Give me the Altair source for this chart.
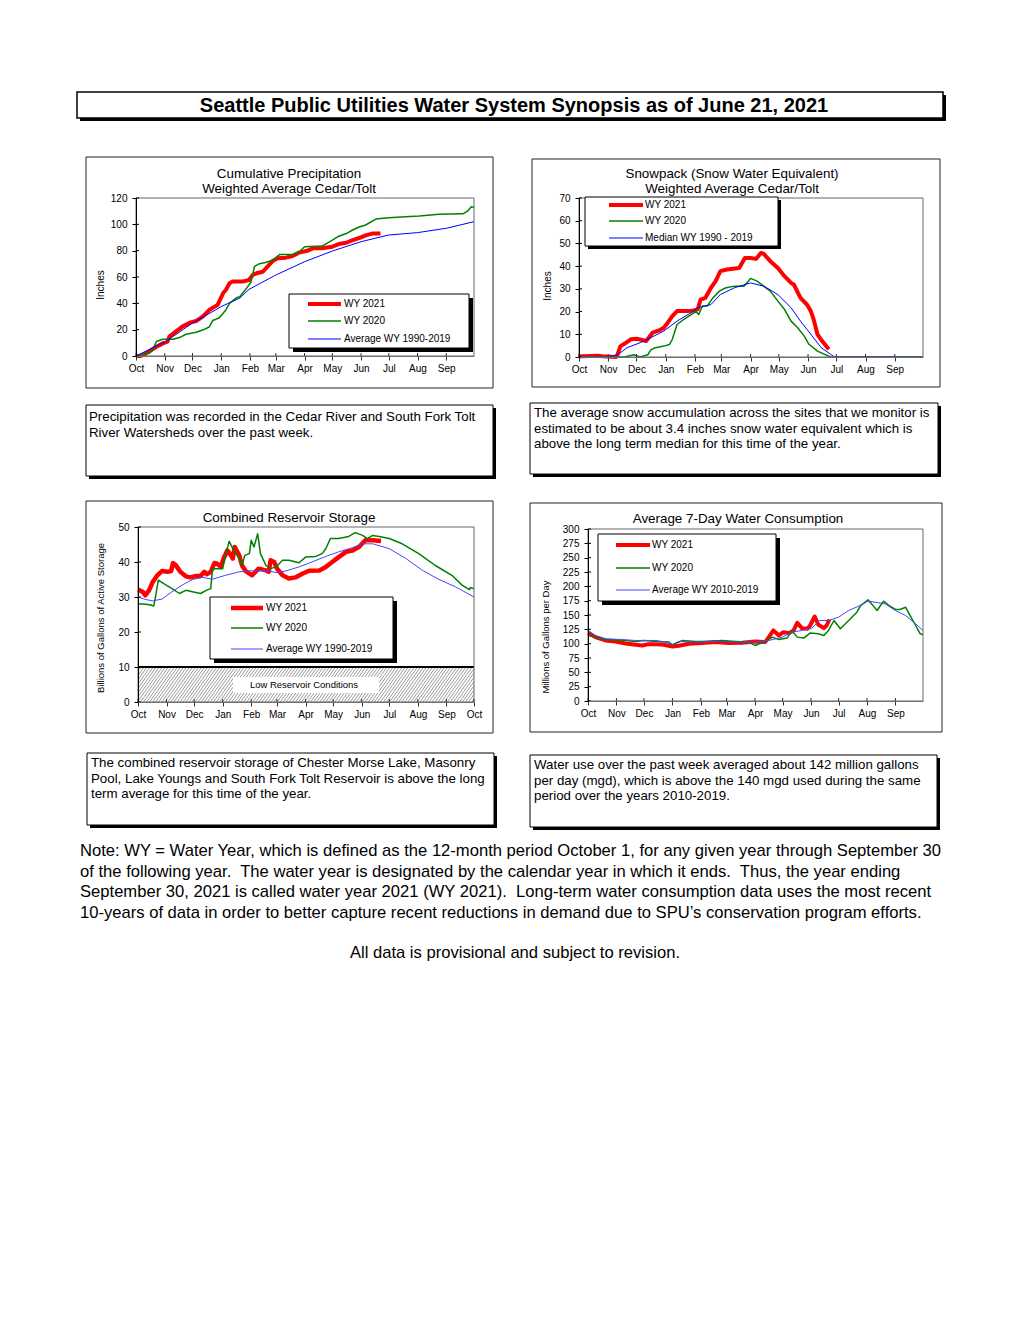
import altair as alt
import numpy as np
import pandas as pd

FONT = "Liberation Sans"

TITLE = "Seattle Public Utilities Water System Synopsis as of June 21, 2021"

MONTHS = ["Oct", "Nov", "Dec", "Jan", "Feb", "Mar", "Apr", "May", "Jun", "Jul", "Aug", "Sep"]
MONTH_DAYS = [0, 31, 61, 92, 123, 151, 182, 212, 243, 273, 304, 335]

# ---------------- Cumulative precipitation (inches), (day of water year, value)
PRECIP_2021 = [(0, 0), (5, 0), (11, 2), (22, 7), (29, 9.6), (34, 10.9), (36, 14.7), (43, 18.5), (50, 22.3),
               (58, 25.3), (65, 26.6), (72, 29.9), (79, 34.9), (85, 37.5), (88, 38.7), (94, 47.6), (97, 50.1),
               (101, 55.2), (104, 56.5), (115, 56.5), (122, 57.7), (126, 61.5), (130, 62.8), (137, 64),
               (142, 67.8), (148, 72.4), (153, 74.2), (162, 74.7), (169, 75.9), (176, 78.5), (184, 79.7),
               (191, 81.8), (201, 81.8), (212, 83), (219, 85), (227, 86), (234, 88), (241, 89.6), (248, 91.6),
               (255, 93), (264, 93)]
PRECIP_2020 = [(0, 0), (7, 1.5), (14, 2), (18, 4.5), (22, 11), (29, 12.7), (40, 12.7), (47, 14), (54, 16.5),
               (65, 18), (72, 19.7), (79, 22), (83, 27), (90, 29), (97, 35), (101, 40), (108, 44), (112, 45),
               (119, 51), (124, 56), (128, 68), (133, 70), (140, 71), (148, 73), (155, 77), (169, 77), (176, 79),
               (182, 83), (201, 83.5), (212, 88), (219, 91), (227, 93), (234, 95.7), (241, 98), (248, 99.5),
               (259, 104), (273, 105), (291, 105.8), (306, 106.3), (327, 107.6), (353, 108), (358, 110),
               (362, 113.4), (365, 113)]
PRECIP_AVG = [(0, 0), (32, 11), (61, 25), (92, 37.5), (112, 44), (122, 50.6), (151, 61.5), (182, 71.6),
              (212, 79.7), (243, 86.8), (273, 91.9), (304, 93.7), (335, 97), (365, 102)]

# ---------------- Snowpack (inches SWE)
SNOW_2021 = [(0, 0), (2, 0.3), (5, 0.3), (20, 0.5), (25, 0.3), (39, 0), (41, 1.2), (44, 4.8), (50, 6.3),
             (55, 7.8), (62, 8), (67, 7.5), (71, 7), (74, 8.5), (78, 10.7), (85, 11.7), (90, 12.9), (94, 15),
             (99, 18), (104, 20.2), (115, 20.2), (122, 20.5), (126, 21), (129, 25.3), (134, 26), (140, 30.5),
             (145, 33.4), (150, 37.8), (157, 38.5), (170, 39.2), (176, 43.6), (182, 43.6), (188, 43.2),
             (193, 45.8), (196, 45.4), (203, 42.2), (211, 39.2), (218, 35.6), (225, 32.6), (228, 31.9),
             (235, 26), (242, 23), (246, 20.2), (249, 16.5), (253, 10), (258, 7), (265, 3.4)]
SNOW_2020 = [(0, 0), (48, 0), (56, 0.8), (58, 1), (62, 0.5), (65, 0), (73, 1), (76, 3), (80, 4), (90, 4.8),
             (96, 5.5), (99, 7.8), (104, 14.3), (111, 16.5), (119, 18.7), (124, 20), (127, 18.7), (131, 22.4),
             (136, 22.4), (142, 26), (149, 29), (156, 30.5), (165, 31.2), (175, 31.2), (179, 33), (182, 34.6),
             (189, 33.4), (196, 31.2), (203, 29), (211, 24.6), (218, 21), (225, 15.8), (232, 12.9), (239, 9.2),
             (244, 5.6), (253, 2.6), (267, 0), (365, 0)]
SNOW_MEDIAN = [(0, 0), (30, 0), (41, 0.9), (51, 4.1), (65, 6.3), (76, 8.5), (90, 11.4), (104, 15.8),
               (119, 19.5), (126, 21.7), (140, 23.1), (150, 27.5), (165, 30.5), (182, 32.6), (196, 31.2),
               (211, 27.5), (225, 21.7), (235, 15.8), (246, 10), (257, 4.1), (267, 1.2), (271, 0), (365, 0)]

# ---------------- Combined reservoir storage (billion gallons)
RES_2021 = [(0, 32.1), (5, 31.5), (8, 30.5), (12, 31.9), (16, 34.3), (21, 36.2), (26, 37.4), (32, 37.2),
            (36, 37.4), (38, 39.7), (41, 39.1), (46, 37.2), (52, 35.9), (57, 35.6), (63, 36), (68, 36),
            (72, 37.2), (75, 36.5), (79, 37.2), (83, 39.7), (86, 39.5), (90, 38.6), (93, 41), (97, 43.3),
            (101, 41.9), (103, 41), (105, 44.3), (110, 41.9), (113, 39), (117, 37.4), (124, 36.2), (131, 38.1),
            (139, 37.6), (142, 37.2), (144, 40.5), (148, 40), (151, 38.1), (157, 36.2), (164, 35.3),
            (171, 35.6), (179, 36.7), (186, 37.5), (197, 37.6), (204, 38.6), (211, 40), (218, 41.4),
            (226, 42.9), (233, 43.3), (240, 44.3), (247, 46.2), (255, 46.2), (264, 46)]
RES_2020 = [(0, 28.1), (8, 27.9), (14, 27.7), (17, 27.4), (19, 30), (22, 34.8), (28, 33.8), (37, 32.4),
            (45, 31), (52, 31.9), (59, 31.5), (68, 31), (74, 31.9), (79, 32.4), (81, 38.1), (86, 38.1),
            (92, 38.1), (95, 41.9), (99, 45.9), (104, 43.3), (110, 41), (113, 39), (116, 41.9), (121, 42.4),
            (123, 46.2), (126, 44.3), (130, 48.1), (133, 42.4), (139, 39), (144, 38.1), (150, 38.6),
            (157, 40.5), (164, 40.5), (175, 39.8), (182, 41.4), (193, 41.6), (200, 42.4), (204, 43.8),
            (209, 46.7), (218, 46.7), (229, 47.3), (236, 48.4), (244, 47.6), (249, 46.7), (255, 47.6),
            (262, 47.3), (273, 46.7), (287, 45.2), (305, 42.4), (323, 39), (341, 36.2), (352, 33.4),
            (360, 32.1), (361, 32.7), (365, 32.4)]
RES_AVG = [(0, 30), (8, 29.3), (16, 28.9), (26, 29.4), (37, 31.5), (48, 33.4), (59, 35), (70, 35.6),
           (81, 35.1), (95, 36.2), (110, 37.2), (124, 37.5), (139, 37.6), (150, 37), (160, 37.4), (175, 38.6),
           (189, 40), (204, 41.6), (218, 42.9), (233, 44.1), (244, 45.2), (255, 45.2), (273, 43.8), (291, 41),
           (309, 37.6), (327, 35), (345, 32.9), (365, 30)]
LOW_RESERVOIR = 10

# ---------------- Average 7-day consumption (mgd)
USE_2021 = [(0, 119), (8, 111.4), (19, 105.6), (30, 103.9), (41, 100.4), (52, 98), (59, 96.9), (66, 99.2),
            (81, 98.6), (92, 95.2), (99, 96.3), (110, 99.8), (124, 101), (139, 102.7), (153, 101), (168, 101.5),
            (182, 103.9), (193, 102.7), (197, 111.4), (202, 123), (208, 114.3), (213, 120), (219, 118.4),
            (224, 123), (228, 136.4), (233, 127.1), (239, 125.9), (242, 131.7), (247, 147.4), (251, 132.9),
            (257, 127.1), (260, 131.7), (263, 142.2)]
USE_2020 = [(0, 114.3), (8, 111.4), (19, 107.4), (30, 106.2), (41, 105.6), (52, 103.9), (61, 105.6),
            (74, 103.9), (88, 102.7), (92, 98), (103, 105.6), (117, 103.9), (132, 103.9), (146, 105.6),
            (161, 103.9), (175, 102.7), (182, 96.9), (193, 103.9), (201, 111.4), (208, 107.4), (217, 109.7),
            (222, 123), (228, 111.4), (235, 109.7), (242, 118.4), (251, 117.2), (257, 114.3), (262, 123),
            (268, 140.4), (275, 125.9), (284, 140.4), (293, 154.9), (297, 166.5), (302, 172.3), (305, 176.4),
            (309, 169.4), (315, 157.8), (322, 174.1), (328, 166.5), (335, 159.6), (340, 159.6), (346, 163.6),
            (351, 149.1), (357, 131.7), (362, 117.2), (365, 115.5)]
USE_AVG = [(0, 123), (8, 114.3), (19, 108.5), (34, 107.4), (52, 105.6), (74, 105.6), (85, 102.7), (92, 98),
           (99, 103.9), (117, 102.7), (139, 103.9), (161, 102.7), (183, 102.7), (197, 105.6), (212, 111.4),
           (222, 120.1), (233, 123), (244, 127.1), (252, 140.4), (262, 140.4), (273, 146.2), (284, 157.8),
           (295, 165.4), (305, 174.1), (313, 172.3), (324, 169.4), (335, 157.8), (346, 149.1), (357, 134.6),
           (365, 123)]

SP2 = "\u00a0 "  # double space after a full stop, as in the original
TEXT_PRECIP = ["Precipitation was recorded in the Cedar River and South Fork Tolt",
               "River Watersheds over the past week."]
TEXT_SNOW = ["The average snow accumulation across the sites that we monitor is",
             "estimated to be about 3.4 inches snow water equivalent which is",
             "above the long term median for this time of the year."]
TEXT_RES = ["The combined reservoir storage of Chester Morse Lake, Masonry",
            "Pool, Lake Youngs and South Fork Tolt Reservoir is above the long",
            "term average for this time of the year."]
TEXT_USE = ["Water use over the past week averaged about 142 million gallons",
            "per day (mgd), which is above the 140 mgd used during the same",
            "period over the years 2010-2019."]
NOTE = ["Note: WY = Water Year, which is defined as the 12-month period October 1, for any given year through September 30",
        "of the following year." + SP2 + "The water year is designated by the calendar year in which it ends."
        + SP2 + "Thus, the year ending",
        "September 30, 2021 is called water year 2021 (WY 2021)." + SP2
        + "Long-term water consumption data uses the most recent",
        "10-years of data in order to better capture recent reductions in demand due to SPU\u2019s conservation program efforts."]
NOTE2 = "All data is provisional and subject to revision."

RED = "#ff0000"
GREEN = "#008000"
BLUE = "#0000ff"
BLUE2 = "#4646ff"

ONE = pd.DataFrame({"k": [0]})


# ---------------- helpers
def vrect(x1, y1, x2, y2, **kw):
    return alt.Chart(ONE).mark_rect(**kw).encode(
        x=alt.value(x1), x2=alt.value(x2), y=alt.value(y1), y2=alt.value(y2))


def vtext(x, y, txt, **kw):
    opts = dict(font=FONT, color="black")
    opts.update(kw)
    return alt.Chart(ONE).mark_text(**opts).encode(x=alt.value(x), y=alt.value(y), text=alt.value(txt))


def vrule(x1, x2, y, **kw):
    return alt.Chart(ONE).mark_rule(**kw).encode(x=alt.value(x1), x2=alt.value(x2), y=alt.value(y))


def band(top, bottom):
    # invisible rect that fixes the vertical extent of a row for the page layout
    return vrect(0, top, 1, bottom, opacity=0)


def spacer(w, h=10, top=None, bottom=None):
    if top is None:
        top, bottom = 0, 1
    return band(top, bottom).properties(width=w, height=h)


def month_expr(days, labels):
    return ("[" + ",".join("'%s'" % l for l in labels) + "][indexof(["
            + ",".join(str(d) for d in days) + "], datum.value)]")


def make_xy(ydom, yticks, xticks, xlabels):
    xs = alt.Scale(domain=[0, 365], nice=False, zero=False)
    ys = alt.Scale(domain=ydom, nice=False, zero=False)
    common = dict(title=None, grid=False, tickSize=4, labelFont=FONT, labelFontSize=10, labelColor="black",
                  domainWidth=1, labelFlush=False, labelOverlap=False, zindex=1)
    xa = alt.Axis(values=xticks, labelExpr=month_expr(xticks, xlabels), labelPadding=3,
                  domainColor="#707070", tickColor="#333333", **common)
    ya = alt.Axis(values=yticks, labelPadding=5, domainColor="black", tickColor="black", **common)

    def X(f):
        return alt.X(f, scale=xs, axis=xa)

    def Y(f):
        return alt.Y(f, scale=ys, axis=ya)
    return X, Y, xticks, yticks


def series_layer(pairs, X, Y, color, width):
    df = pd.DataFrame(pairs, columns=["day", "value"])
    return alt.Chart(df).mark_line(color=color, strokeWidth=width, strokeJoin="round").encode(
        x=X("day:Q"), y=Y("value:Q"))


def legend_layers(box, lx, tx, ys, entries, shadow=4):
    x1, y1, x2, y2 = box
    out = [vrect(x1 + shadow, y1 + shadow, x2 + shadow, y2 + shadow, fill="black"),
           vrect(x1, y1, x2, y2, fill="white", stroke="black", strokeWidth=1)]
    for (lab, col, w), yy in zip(entries, ys):
        out.append(vrule(lx[0], lx[1], yy, color=col, strokeWidth=w))
        out.append(vtext(tx, yy, lab, align="left", baseline="middle", fontSize=10))
    return out


def chart_panel(W, H, axes, frame, titles, ytitle, series_layers, legend, extra=()):
    X, Y, xticks, yticks = axes
    layers = [vrect(*frame, fillOpacity=0, stroke="#222", strokeWidth=1)]
    for (t, x, y) in titles:
        layers.append(vtext(x, y, t, align="center", baseline="middle", fontSize=13.4))
    t, x, y, fs = ytitle
    layers.append(vtext(x, y, t, align="center", baseline="middle", fontSize=fs, angle=270))
    layers += list(extra)
    layers += series_layers
    layers.append(vrect(0, 0, W, H, fillOpacity=0, stroke="#666", strokeWidth=1))
    # inner half of the crossing tick marks
    layers.append(alt.Chart(pd.DataFrame({"day": xticks})).mark_rule(color="#333333").encode(
        x=X("day:Q"), y=alt.value(H - 3), y2=alt.value(H)))
    layers.append(alt.Chart(pd.DataFrame({"value": yticks})).mark_rule(color="black").encode(
        y=Y("value:Q"), x=alt.value(0), x2=alt.value(3)))
    layers += legend
    return alt.layer(*layers).properties(width=W, height=H)


# ---------------- chart 1: precipitation
ax = make_xy([0, 120], [0, 20, 40, 60, 80, 100, 120], MONTH_DAYS, MONTHS)
X, Y = ax[0], ax[1]
c1 = chart_panel(
    338, 158, ax, (-50, -41, 357, 190),
    [("Cumulative Precipitation", 153, -24), ("Weighted Average Cedar/Tolt", 153, -9)],
    ("Inches", -35, 87, 10),
    [series_layer(PRECIP_2021, X, Y, RED, 4), series_layer(PRECIP_2020, X, Y, GREEN, 1.5),
     series_layer(PRECIP_AVG, X, Y, BLUE, 1)],
    legend_layers((153, 96, 333, 150), (172, 205), 208, [106, 123, 141],
                  [("WY 2021", RED, 4), ("WY 2020", GREEN, 1.5), ("Average WY 1990-2019", BLUE, 1)]))

# ---------------- chart 2: snowpack
ax = make_xy([0, 70], [0, 10, 20, 30, 40, 50, 60, 70], MONTH_DAYS, MONTHS)
X, Y = ax[0], ax[1]
c2 = chart_panel(
    344, 159, ax, (-47, -39, 361, 189),
    [("Snowpack (Snow Water Equivalent)", 153, -24), ("Weighted Average Cedar/Tolt", 153, -9)],
    ("Inches", -31, 88, 10),
    [series_layer(SNOW_2021, X, Y, RED, 4), series_layer(SNOW_2020, X, Y, GREEN, 1.5),
     series_layer(SNOW_MEDIAN, X, Y, BLUE, 1)],
    legend_layers((6, -1, 199, 48), (30, 64), 66, [7, 23, 40],
                  [("WY 2021", RED, 4), ("WY 2020", GREEN, 1.5), ("Median WY 1990 - 2019", BLUE, 1)], shadow=3))

# ---------------- chart 3: reservoir storage
ax = make_xy([0, 50], [0, 10, 20, 30, 40, 50], MONTH_DAYS + [365], MONTHS + ["Oct"])
X, Y = ax[0], ax[1]
hatch_start = np.arange(-27, 365, 3.3)
hatch = pd.DataFrame({"x0": hatch_start, "x1": hatch_start + 27, "y0": 0, "y1": LOW_RESERVOIR})
hatch_layer = alt.Chart(hatch).mark_rule(color="#555", strokeWidth=0.6, clip=True).encode(
    x=X("x0:Q"), x2="x1:Q", y=Y("y0:Q"), y2="y1:Q")
low_line = alt.Chart(pd.DataFrame({"value": [LOW_RESERVOIR]})).mark_rule(color="black", strokeWidth=2).encode(
    y=Y("value:Q"), x=alt.value(0), x2=alt.value(336))
c3 = chart_panel(
    336, 175, ax, (-52, -26, 355, 206),
    [("Combined Reservoir Storage", 151, -9)],
    ("Billions of Gallons of Active Storage", -37, 91, 9.5),
    [series_layer(RES_2021, X, Y, RED, 4.5), series_layer(RES_2020, X, Y, GREEN, 1.5),
     series_layer(RES_AVG, X, Y, BLUE2, 1)],
    legend_layers((72, 70, 255, 132), (93, 125), 128, [81, 101, 122],
                  [("WY 2021", RED, 4.5), ("WY 2020", GREEN, 1.5), ("Average WY 1990-2019", BLUE2, 1)]),
    extra=[hatch_layer, low_line,
           vrect(95, 150, 241, 166, fill="white"),
           vtext(166, 158, "Low Reservoir Conditions", align="center", baseline="middle", fontSize=9.5)])

# ---------------- chart 4: consumption
ax = make_xy([0, 300], list(range(0, 301, 25)), MONTH_DAYS, MONTHS)
X, Y = ax[0], ax[1]
c4 = chart_panel(
    335, 172, ax, (-58, -26, 354, 203),
    [("Average 7-Day Water Consumption", 150, -10)],
    ("Millions of Gallons per Day", -42, 108, 9.5),
    [series_layer(USE_2021, X, Y, RED, 4), series_layer(USE_2020, X, Y, GREEN, 1.5),
     series_layer(USE_AVG, X, Y, BLUE2, 1)],
    legend_layers((10, 5, 188, 72), (28, 62), 64, [16, 39, 61],
                  [("WY 2021", RED, 4), ("WY 2020", GREEN, 1.5), ("Average WY 2010-2019", BLUE2, 1)]))


# ---------------- text boxes
def text_box(W, H, dy, bh, lines, tx, ty):
    return alt.layer(
        vrect(3, dy + 3, W + 3, dy + bh + 3, fill="black"),
        vrect(0, dy, W, dy + bh, fill="white", stroke="black", strokeWidth=1),
        alt.Chart(ONE).mark_text(text=lines, align="left", baseline="top", font=FONT, fontSize=13.3,
                                 lineHeight=15.5, color="black").encode(x=alt.value(tx), y=alt.value(ty)),
    ).properties(width=W, height=H)


b1 = text_box(407, 73, 2, 71, TEXT_PRECIP, 3, 7)
b2 = text_box(408, 73, 0, 71, TEXT_SNOW, 4, 3)
b3 = text_box(407, 74, 0, 72, TEXT_RES, 4, 3)
b4 = text_box(407, 74, 2, 72, TEXT_USE, 4, 5)

# row 0: page title (row origin = page y 92)
title_panel = alt.layer(
    band(-1, 61),
    vrect(3, 3, 869, 29, fill="black"),
    vrect(0, 0, 866, 26, fill="white", stroke="black", strokeWidth=1.5),
    vtext(437, 14, TITLE, align="center", baseline="middle", fontSize=20, fontWeight="bold"),
).properties(width=866, height=26)

# note (row origin = page y 833)
note_panel = alt.layer(
    band(0, 140),
    alt.Chart(ONE).mark_text(text=NOTE, align="left", baseline="top", font=FONT, fontSize=16.6,
                             lineHeight=20.7, color="black").encode(x=alt.value(3), y=alt.value(10)),
    vtext(438, 120, NOTE2, align="center", baseline="middle", fontSize=16.6),
).properties(width=866, height=140)

row1 = alt.hconcat(spacer(59, 10, -45, 200), c1, spacer(105), c2, spacing=0, bounds="flush")
rowt1 = alt.hconcat(spacer(9, 10, -5, 94), b1, spacer(37), b2, spacing=0, bounds="flush")
c4n = alt.vconcat(spacer(335, 2), c4, spacing=0, bounds="flush")
row2 = alt.hconcat(spacer(61, 10, -30, 221), c3, spacer(114), c4n, spacing=0, bounds="flush")
rowt2 = alt.hconcat(spacer(10, 10, -5, 80), b3, spacer(36), b4, spacing=0, bounds="flush")

chart = alt.vconcat(
    title_panel, row1, rowt1, row2, rowt2, note_panel, spacing=0, bounds="full",
).properties(
    padding={"left": 68, "top": 83, "right": 5, "bottom": 5}
).configure_view(strokeWidth=0, strokeOpacity=0)

chart.save("out.html", embed_options={"renderer": "svg", "actions": False})
